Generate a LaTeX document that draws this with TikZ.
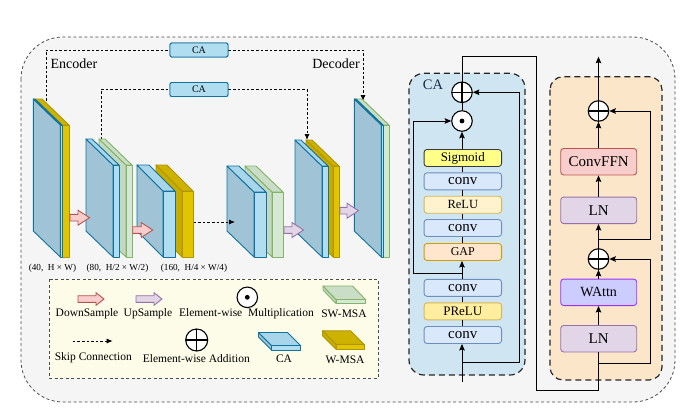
\documentclass[tikz,border=0pt]{standalone}
\usepackage{fontspec}
\setmainfont{Liberation Serif}
\usetikzlibrary{arrows.meta,calc}
\definecolor{bgGray}{HTML}{F5F5F5}
\definecolor{bluSide}{HTML}{A0C4D6}
\definecolor{bluTop}{HTML}{A9D5EA}
\definecolor{bluFront}{HTML}{B1DDF0}
\definecolor{bluLine}{HTML}{10739E}
\definecolor{gldSide}{HTML}{C8AD00}
\definecolor{gldTop}{HTML}{CDB300}
\definecolor{gldFront}{HTML}{E0C500}
\definecolor{gldLine}{HTML}{B09500}
\definecolor{grnSide}{HTML}{C3D7C1}
\definecolor{grnTop}{HTML}{C9DDC7}
\definecolor{grnFront}{HTML}{D5E8D4}
\definecolor{grnLine}{HTML}{82B366}
\definecolor{dnFill}{HTML}{F8CECC}
\definecolor{dnLine}{HTML}{B85450}
\definecolor{upFill}{HTML}{E1D5E7}
\definecolor{upLine}{HTML}{9673A6}
\definecolor{legFill}{HTML}{FDFCE8}
\definecolor{caPanel}{HTML}{CFE5F1}
\definecolor{trPanel}{HTML}{FCE6CA}
\definecolor{convFill}{HTML}{DAE8FC}
\definecolor{convLine}{HTML}{6C8EBF}
\definecolor{sigFill}{HTML}{FFFF88}
\definecolor{sigLine}{HTML}{36393D}
\definecolor{reluFill}{HTML}{FFF2CC}
\definecolor{preluFill}{HTML}{FFEDA0}
\definecolor{reluLine}{HTML}{D6B656}
\definecolor{gapFill}{HTML}{FFE6CC}
\definecolor{gapLine}{HTML}{D79B00}
\definecolor{ffnFill}{HTML}{F8CECC}
\definecolor{ffnLine}{HTML}{B85450}
\definecolor{lnFill}{HTML}{E1D5E7}
\definecolor{lnLine}{HTML}{9673A6}
\definecolor{waFill}{HTML}{CCCCFF}
\definecolor{waLine}{HTML}{9933FF}
\definecolor{caText}{HTML}{1C2A4A}
\newcommand\slabbox[7]{%
  \filldraw[fill=#1Side,draw=#1Line,slabline] (#2-#6,#4-#7) -- (#2,#4) -- (#2,#5) -- (#2-#6,#5-#7) -- cycle;
  \filldraw[fill=#1Top,draw=#1Line,slabline] (#2-#6,#4-#7) -- (#3-#6,#4-#7) -- (#3,#4) -- (#2,#4) -- cycle;
  \filldraw[fill=#1Front,draw=#1Line,slabline] (#2,#4) rectangle (#3,#5);}
\newcommand\blockarr[6]{%
  \filldraw[fill=#4Fill,draw=#4Line,line width=0.9pt,line join=miter]
   (#1,#3-3.3) -- (#2-#5,#3-3.3) -- (#2-#5,#3-#6) -- (#2,#3) -- (#2-#5,#3+#6) -- (#2-#5,#3+3.3) -- (#1,#3+3.3) -- cycle;}
\begin{document}
\begin{tikzpicture}[x=1pt,y=-1pt,
  slabline/.style={line width=0.9pt,line join=round},
  skip/.style={dash pattern=on 2.6pt off 2pt,line width=0.8pt},
  skiparr/.style={skip,-{Latex[length=6pt,width=5pt]}},
  arr/.style={line width=1pt,-{Stealth[length=6.5pt,width=5.5pt,inset=1pt]}},
  ln/.style={line width=1pt},
  cabox/.style={draw=bluLine,fill=bluFront,rounded corners=2pt,line width=0.9pt,minimum width=58pt,minimum height=14pt,inner sep=0pt,font=\fontsize{10}{11}\selectfont},
  cab/.style={rounded corners=3pt,line width=0.9pt,minimum width=77.5pt,minimum height=17pt,inner sep=0pt},
  trb/.style={rounded corners=3pt,line width=0.9pt,minimum width=76pt,minimum height=26.5pt,inner sep=0pt,font=\fontsize{15}{17}\selectfont},
  opl/.style={circle,draw,fill=white,minimum size=20.5pt,inner sep=0pt,line width=1.1pt,
    path picture={\draw[black,line width=1.1pt] (path picture bounding box.north) -- (path picture bounding box.south) (path picture bounding box.west) -- (path picture bounding box.east);}},
  odt/.style={circle,draw,fill=white,minimum size=20.5pt,inner sep=0pt,line width=1.1pt,
    path picture={\fill[black] (path picture bounding box.center) circle (2.4pt);}},
  panel/.style={dash pattern=on 6pt off 4pt,line width=1.2pt,draw=black!85},
  legtxt/.style={font=\fontsize{11.5}{13}\selectfont,inner sep=0pt},
  dimtxt/.style={font=\fontsize{9.2}{10}\selectfont,inner sep=0pt}
]
\useasboundingbox (0,0) rectangle (691,416);
\fill[white] (0,0) rectangle (691,416);
% outer frame
\draw[fill=bgGray,draw=black!70,dash pattern=on 3pt off 2.5pt,line width=0.8pt,rounded corners=42pt] (21,37) rectangle (675,402);

% skip connections (drawn under boxes)
\coordinate (s1a) at (46,101);
\coordinate (s1b) at (363,101);
\coordinate (s2a) at (101,140);
\coordinate (s2b) at (307,140);
\node[cabox] (ca1) at (199,50) {};
\node[cabox] (ca2) at (199,89.5) {};
\draw[skip] (s1a) |- (ca1.west);
\draw[skiparr] (ca1.east) -| (s1b);
\draw[skip] (s2a) |- (ca2.west);
\draw[skiparr] (ca2.east) -| (s2b);
\node[cabox] (ca1b) at (199,50) {CA};
\node[cabox] (ca2b) at (199,89.5) {CA};

\node[font=\fontsize{14}{16}\selectfont,inner sep=0pt] (enc) at (74,63.5) {Encoder};
\node[font=\fontsize{14}{16}\selectfont,inner sep=0pt] (dec) at (336,63.5) {Decoder};

% encoder slabs
\slabbox{gld}{62}{69}{125}{257}{27}{26}
\slabbox{blu}{60.3}{62}{125}{257}{27}{26}
\slabbox{grn}{126}{132}{165}{257}{27}{26}
\slabbox{blu}{113}{119}{165}{257}{27}{26}
\slabbox{gld}{182}{193}{191}{257}{26}{26}
\slabbox{blu}{163}{175}{191}{257}{26}{26}
% decoder slabs
\slabbox{grn}{272}{283}{192}{257}{27}{26}
\slabbox{blu}{254}{266}{192}{257}{27}{26}
\slabbox{gld}{333}{339}{166}{257}{27}{26}
\slabbox{blu}{322}{328}{166}{257}{27}{26}
\slabbox{grn}{383}{389}{125}{257}{27}{26}
\slabbox{blu}{381.3}{383}{125}{257}{27}{26}

% down / up sample arrows
\blockarr{70}{89.5}{217.7}{dn}{11.5}{7.5}
\blockarr{132.7}{152.7}{230}{dn}{11.5}{7.5}
\blockarr{284}{303.5}{230}{up}{11.5}{7.5}
\blockarr{340}{358.5}{210.7}{up}{11.5}{7.5}
% middle skip
\coordinate (m1) at (193.5,222);
\coordinate (m2) at (235,222);
\draw[skiparr] (m1) -- (m2);

% dimension labels
\node[dimtxt] (d1) at (52.5,268) {(40,\ \ H × W)};
\node[dimtxt] (d2) at (117.5,268) {(80,\ \ H/2 × W/2)};
\node[dimtxt] (d3) at (194,268) {(160,\ \ H/4 × W/4)};

% legend
\draw[fill=legFill,draw=black!70,dash pattern=on 3pt off 2.5pt,line width=0.9pt] (49,279) rectangle (378,378);
\blockarr{78}{104}{299}{dn}{8}{6.3}
\blockarr{136}{162}{299}{up}{8}{6.3}
\node[odt] (lodot) at (247.3,297.3) {};
\slabbox{grn}{336}{365.5}{299.5}{303.5}{13}{13.5}
\coordinate (lsk1) at (72.7,341);
\coordinate (lsk2) at (112.7,341);
\draw[skiparr] (lsk1) -- (lsk2);
\node[opl,minimum size=22pt] (loplus) at (196.7,340) {};
\slabbox{blu}{271.5}{300.5}{345.5}{350}{13}{13}
\slabbox{gld}{336}{364}{344.3}{349.3}{13.5}{13.5}
\node[legtxt] (t1) at (87,314) {DownSample};
\node[legtxt] (t2) at (148,314) {UpSample};
\node[legtxt] (t3) at (246.5,314) {Element-wise\ \ Multiplication};
\node[legtxt] (t4) at (344,314) {SW-MSA};
\node[legtxt] (t5) at (93.3,357.5) {Skip Connection};
\node[legtxt] (t6) at (196.3,358.3) {Element-wise Addition};
\node[legtxt] (t7) at (284,358.3) {CA};
\node[legtxt] (t8) at (345,360) {W-MSA};

% CA panel
\draw[panel,fill=caPanel,rounded corners=15pt] (409,73.3) rectangle (525,375);
\node[font=\fontsize{14.5}{16}\selectfont,text=caText,inner sep=0pt] (calbl) at (433,84.5) {CA};
\node[opl] (caplus) at (462,92.3) {};
\node[odt] (caodot) at (462,121) {};
\node[cab,fill=sigFill,draw=sigLine,font=\fontsize{13}{14}\selectfont] (sig) at (462.8,158) {Sigmoid};
\node[cab,fill=convFill,draw=convLine,font=\fontsize{15}{16}\selectfont] (conv1) at (462.8,181.3) {conv};
\node[cab,fill=reluFill,draw=reluLine,font=\fontsize{12.5}{14}\selectfont] (relu) at (462.8,204.7) {ReLU};
\node[cab,fill=convFill,draw=convLine,font=\fontsize{15}{16}\selectfont] (conv2) at (462.8,228) {conv};
\node[cab,fill=gapFill,draw=gapLine,font=\fontsize{12}{13}\selectfont] (gap) at (462.8,252) {GAP};
\node[cab,fill=convFill,draw=convLine,font=\fontsize{15}{16}\selectfont] (conv3) at (462.8,287.8) {conv};
\node[cab,fill=preluFill,draw=reluLine,font=\fontsize{13}{14}\selectfont] (prelu) at (462.8,311.3) {PReLU};
\node[cab,fill=convFill,draw=convLine,font=\fontsize{15}{16}\selectfont] (conv4) at (462.8,335) {conv};
\coordinate (cain) at (462,382);
\coordinate (cab1) at (462,362.7);
\coordinate (caR) at (519,362.7);
\coordinate (cab3) at (462,273.3);
\coordinate (caL) at (413,273.3);
\draw[arr] (cain) -- (conv4.south -| cain);
\draw[arr] (cab1) -- (caR) |- (caplus.east);
\draw[ln] (conv4.north -| cain) -- (prelu.south -| cain);
\draw[ln] (prelu.north -| cain) -- (conv3.south -| cain);
\draw[arr] (conv3.north -| cain) -- (gap.south -| cain);
\draw[arr] (cab3) -- (caL) |- (caodot.west);
\draw[ln] (gap.north -| cain) -- (conv2.south -| cain);
\draw[ln] (conv2.north -| cain) -- (relu.south -| cain);
\draw[ln] (relu.north -| cain) -- (conv1.south -| cain);
\draw[ln] (conv1.north -| cain) -- (sig.south -| cain);
\draw[arr] (sig.north -| cain) -- (caodot.south);
\draw[ln] (caodot.north) -- (caplus.south);

% transformer panel
\draw[panel,fill=trPanel,rounded corners=13pt] (550,76.7) rectangle (662,380);
\node[opl] (tplus1) at (598.5,111) {};
\node[trb,fill=ffnFill,draw=ffnLine] (ffn) at (598.7,161.7) {ConvFFN};
\node[trb,fill=lnFill,draw=lnLine] (ln1) at (598.7,210.3) {LN};
\node[opl] (tplus2) at (598.5,259) {};
\node[trb,fill=waFill,draw=waLine,font=\fontsize{14}{16}\selectfont] (wattn) at (598.7,292.3) {WAttn};
\node[trb,fill=lnFill,draw=lnLine] (ln2) at (598.7,338.7) {LN};
\coordinate (tout) at (598.5,56.7);
\coordinate (tb1) at (598.5,239);
\coordinate (tr1) at (650,239);
\coordinate (tb2) at (598.5,363.3);
\coordinate (tr2) at (650,363.3);
\draw[arr] (tplus1.north) -- (tout);
\draw[arr] (ffn.north -| tout) -- (tplus1.south);
\draw[arr] (ln1.north -| tout) -- (ffn.south -| tout);
\draw[arr] (tplus2.north) -- (ln1.south -| tout);
\draw[arr] (wattn.north -| tout) -- (tplus2.south);
\draw[arr] (ln2.north -| tout) -- (wattn.south -| tout);
\draw[arr] (tb1) -- (tr1) |- (tplus1.east);
\draw[arr] (tb2) -- (tr2) |- (tplus2.east);

% link CA -> transformer
\coordinate (l1) at (462,56.7);
\coordinate (l2) at (536,56.7);
\coordinate (l3) at (536,390);
\coordinate (l4) at (598.5,390);
\draw[ln] (caplus.north) -- (l1) -- (l2) -- (l3) -- (l4) -- (ln2.south -| l4);
\end{tikzpicture}
\end{document}
